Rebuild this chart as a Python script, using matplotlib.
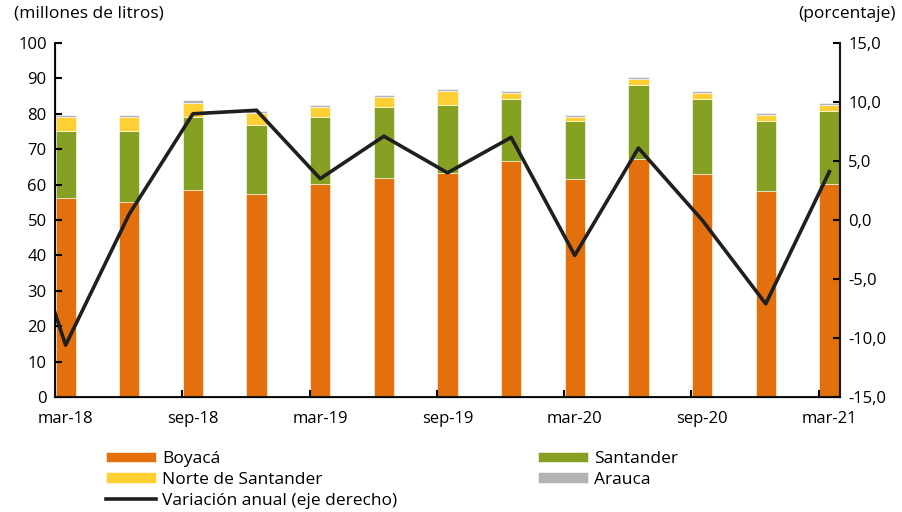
import numpy as np
import matplotlib.pyplot as plt
from matplotlib.ticker import FuncFormatter

# trimestres (mar-18 ... mar-21)
trimestres = ['mar-18', 'jun-18', 'sep-18', 'dic-18', 'mar-19', 'jun-19', 'sep-19',
              'dic-19', 'mar-20', 'jun-20', 'sep-20', 'dic-20', 'mar-21']
boyaca = [56.1, 55.1, 58.4, 57.3, 60.1, 61.8, 63.4, 66.8, 61.7, 67.3, 63.0, 58.3, 60.1]
santander = [19.0, 20.0, 20.8, 19.6, 19.1, 20.2, 19.2, 17.5, 16.4, 20.9, 21.3, 19.8, 20.8]
norte_santander = [4.1, 4.1, 3.9, 3.4, 2.8, 2.8, 3.9, 1.7, 1.1, 1.7, 1.7, 1.6, 1.7]
arauca = [0.5, 0.5, 0.7, 0.6, 0.6, 0.6, 0.6, 0.5, 0.5, 0.6, 0.5, 0.6, 0.5]
# variación anual; el primer valor corresponde a dic-17 (sólo se ve el tramo recortado)
variacion = [5.7, -10.6, 0.5, 9.0, 9.3, 3.5, 7.1, 4.0, 7.0, -3.0, 6.1, 0.0, -7.1, 4.1]
etiquetas = ['mar-18', 'sep-18', 'mar-19', 'sep-19', 'mar-20', 'sep-20', 'mar-21']

plt.rcParams['font.family'] = ['Open Sans', 'DejaVu Sans']

naranja = '#E3700D'
verde = '#86A024'
amarillo = '#FFD033'
gris = '#B3B3B3'

# eje de fechas mensual: cada trimestre ocupa la casilla de su mes
x = np.arange(len(trimestres)) * 3 + 0.5
x_linea = np.concatenate([[x[0] - 3], x])

fig = plt.figure(figsize=(9.02, 5.12), dpi=100)
ax = fig.add_axes([55 / 902, 1 - 397 / 512, 785 / 902, 354 / 512])

ancho = 0.95
b1 = np.array(boyaca)
b2 = b1 + np.array(santander)
b3 = b2 + np.array(norte_santander)
ec = dict(edgecolor='white', linewidth=0.4)
h1 = ax.bar(x, boyaca, ancho, color=naranja, label='Boyacá', **ec)
h2 = ax.bar(x, santander, ancho, bottom=b1, color=verde, label='Santander', **ec)
h3 = ax.bar(x, norte_santander, ancho, bottom=b2, color=amarillo,
            label='Norte de Santander', **ec)
h4 = ax.bar(x, arauca, ancho, bottom=b3, color=gris, label='Arauca', **ec)

ax.set_xlim(0, 37)
ax.set_ylim(0, 100)
ax.set_yticks(range(0, 101, 10))
ax.set_xticks(np.arange(0, 37, 6))
ax.set_xticklabels([])
ax.set_xticks(np.arange(0, 37, 6) + 0.5, minor=True)
ax.set_xticklabels(etiquetas, minor=True)
ax.tick_params(axis='x', which='major', direction='in', length=5, width=1.5)
ax.tick_params(axis='x', which='minor', length=0, pad=10, labelsize=12)
ax.tick_params(axis='y', direction='in', length=5, width=1.5, labelsize=12, pad=6)
ax.spines['top'].set_visible(False)
for s in ['left', 'bottom', 'right']:
    ax.spines[s].set_linewidth(1.5)
    ax.spines[s].set_color('#1a1a1a')

ax2 = ax.twinx()
l1, = ax2.plot(x_linea, variacion, color='#1f1f1f', linewidth=2.6,
               label='Variación anual (eje derecho)')
ax2.set_ylim(-15, 15)
ax2.set_yticks(np.arange(-15, 16, 5))
ax2.yaxis.set_major_formatter(FuncFormatter(lambda v, p: f'{v:.1f}'.replace('.', ',')))
ax2.tick_params(axis='y', direction='in', length=5, width=1.5, labelsize=12, pad=6)
ax2.spines['top'].set_visible(False)
ax2.spines['right'].set_linewidth(1.5)
ax2.spines['right'].set_color('#1a1a1a')

fig.text(14 / 902, 1 - 14 / 512, '(millones de litros)', fontsize=12.5, va='center')
fig.text(896 / 902, 1 - 14 / 512, '(porcentaje)', fontsize=12.5, va='center', ha='right')

opciones = dict(loc='upper left', frameon=False, fontsize=12.5,
                handlelength=2.9, handleheight=0.57, handletextpad=0.35,
                labelspacing=0.28, borderpad=0, borderaxespad=0)
leg1 = fig.legend([h1, h3, l1],
                  ['Boyacá', 'Norte de Santander', 'Variación anual (eje derecho)'],
                  bbox_to_anchor=(106 / 902, 1 - 451 / 512), **opciones)
leg2 = fig.legend([h2, h4], ['Santander', 'Arauca'],
                  bbox_to_anchor=(538 / 902, 1 - 451 / 512), **opciones)

fig.savefig('out.png', dpi=100)
